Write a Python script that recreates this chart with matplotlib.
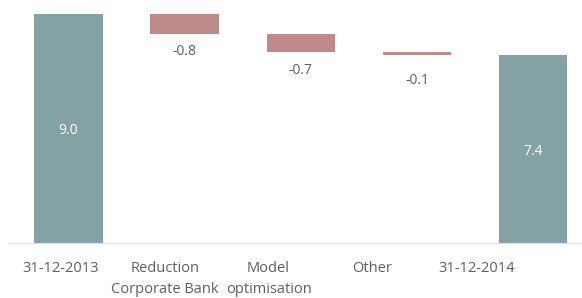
import matplotlib
matplotlib.use("Agg")
import matplotlib.pyplot as plt

categories = ["31-12-2013", "Reduction\nCorporate Bank", "Model\noptimisation", "Other", "31-12-2014"]
values = [9.0, -0.8, -0.7, -0.1, 7.4]
is_total = [True, False, False, False, True]
labels = ["9.0", "-0.8", "-0.7", "-0.1", "7.4"]

teal = "#84A1A3"
pink = "#BF8A8A"
txt = "#5F5F5F"
font = ["Open Sans", "DejaVu Sans"]

fig = plt.figure(figsize=(5.82, 2.98), dpi=100)
ax = fig.add_axes([8/582, 55.5/298, 574/582, 242.5/298])

running = 0.0
for i, (v, tot, lab) in enumerate(zip(values, is_total, labels)):
    if tot:
        bottom, h = 0, v
        running = v
        ax.bar(i, h, bottom=bottom, width=0.59, color=teal)
        ax.text(i, v / 2 - 0.1, lab, ha="center", va="center", color="white",
                fontsize=10, family=font)
    else:
        bottom = running + v
        ax.bar(i, -v, bottom=bottom, width=0.59, color=pink)
        ax.annotate(lab, (i, bottom - v / 2), xytext=(0, -19.5), textcoords="offset points",
                    ha="center", va="center", color=txt, fontsize=10, family=font)
        running = bottom

ax.set_xlim(-0.52, 4.42)
ax.set_ylim(0, 9.55)
# category labels sit on a slightly compressed grid in the original
tick_pos = [-0.065 + 0.894 * i for i in range(len(categories))]
ax.set_xticks(tick_pos)
ax.set_xticklabels(categories, fontsize=10.5, color=txt, family=font, linespacing=1.55)
ax.tick_params(axis="x", length=0, pad=13)
ax.set_yticks([])
for s in ["top", "right", "left"]:
    ax.spines[s].set_visible(False)
ax.spines["bottom"].set_color("#E0E0E0")
ax.spines["bottom"].set_linewidth(0.8)

fig.savefig("out.png", dpi=100)
